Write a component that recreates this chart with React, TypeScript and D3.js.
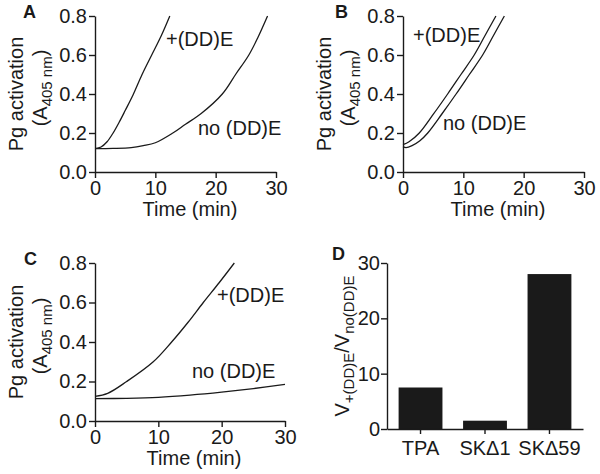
import React, { useEffect, useRef } from "react";
import * as d3 from "d3";

// panel A
const aPlusTime = [0, 1, 2, 3, 4, 5, 6.3, 7.8, 9.4, 11, 12.4];
const aPlusValue = [0.12, 0.128, 0.155, 0.2, 0.255, 0.315, 0.395, 0.5, 0.6, 0.7, 0.8];
const aNoTime = [0, 3, 6, 8, 10, 12.9, 15, 17.6, 21.1, 23.3, 25.5, 27, 28.6];
const aNoValue = [0.12, 0.121, 0.125, 0.135, 0.15, 0.2, 0.245, 0.3, 0.4, 0.5, 0.6, 0.69, 0.8];

// panel B
const bPlusTime = [0, 1, 2.7, 5, 7.4, 9.6, 11.8, 13.6, 15.4];
const bPlusValue = [0.14, 0.155, 0.2, 0.295, 0.4, 0.5, 0.6, 0.7, 0.8];
const bNoTime = [0, 0.5, 1.5, 2.8, 4.1, 6.5, 8.8, 11, 13.2, 15, 16.8];
const bNoValue = [0.13, 0.125, 0.135, 0.16, 0.2, 0.3, 0.4, 0.5, 0.6, 0.7, 0.8];

// panel C
const cPlusTime = [0, 2, 5, 9.2, 12.1, 14.7, 17.1, 19.6, 22];
const cPlusValue = [0.125, 0.14, 0.2, 0.3, 0.4, 0.5, 0.6, 0.7, 0.8];
const cNoTime = [0, 5, 10, 15, 20, 25, 30];
const cNoValue = [0.113, 0.115, 0.12, 0.131, 0.146, 0.164, 0.185];

// panel D
const enzymes = ["TPA", "SKΔ1", "SKΔ59"];
const ratios = [7.5, 1.5, 28];

const timeTicks = [0, 10, 20, 30];
const absTicks = [0, 0.2, 0.4, 0.6, 0.8];
const ratioTicks = [0, 10, 20, 30];

const FONT = "'Liberation Sans', Arial, Helvetica, sans-serif";
const INK = "#1a1a1a";

const App = () => {
  const ref = useRef<SVGSVGElement>(null);

  useEffect(() => {
    const svg = d3.select(ref.current).html("");
    svg.style("font-family", FONT);

    const styleAxis = (g: any) => {
      g.select(".domain").attr("stroke", INK).attr("stroke-width", 1.4);
      g.selectAll(".tick line").attr("stroke", INK).attr("stroke-width", 1.4);
      g.selectAll(".tick text")
        .attr("fill", INK)
        .style("font-size", "20px")
        .style("font-family", FONT);
    };

    const drawLinePanel = (p: any) => {
      const x = d3.scaleLinear().domain([0, 30]).range([p.left, p.right]);
      const y = d3.scaleLinear().domain([0, 0.8]).range([p.bottom, p.top]);
      const g = svg.append("g");

      g.append("g")
        .attr("transform", `translate(0,${p.bottom})`)
        .call(d3.axisBottom(x).tickValues(timeTicks).tickSize(6).tickPadding(3).tickSizeOuter(0))
        .call(styleAxis);
      g.append("g")
        .attr("transform", `translate(${p.left},0)`)
        .call(
          d3.axisLeft(y).tickValues(absTicks).tickFormat(d3.format(".1f")).tickSize(6).tickPadding(2).tickSizeOuter(0)
        )
        .call(styleAxis);

      const line = d3
        .line<[number, number]>()
        .x((d) => x(d[0]))
        .y((d) => y(d[1]))
        .curve(d3.curveCatmullRom.alpha(0.5));

      p.series.forEach((s: any) => {
        g.append("path")
          .datum(s.t.map((t: number, i: number) => [t, s.v[i]]))
          .attr("d", line)
          .attr("fill", "none")
          .attr("stroke", INK)
          .attr("stroke-width", 1.3);
      });

      p.labels.forEach((l: any) => {
        g.append("text")
          .attr("x", l.x)
          .attr("y", l.y)
          .attr("fill", INK)
          .style("font-size", "20px")
          .text(l.text);
      });

      // axis titles
      const midY = (p.top + p.bottom) / 2;
      g.append("text")
        .attr("transform", `translate(${p.left - 72},${midY}) rotate(-90)`)
        .attr("text-anchor", "middle")
        .attr("fill", INK)
        .style("font-size", "20px")
        .text("Pg activation");
      const t2 = g
        .append("text")
        .attr("transform", `translate(${p.left - 48},${midY - 6}) rotate(-90)`)
        .attr("text-anchor", "middle")
        .attr("fill", INK)
        .style("font-size", "20px");
      t2.append("tspan").text("(A");
      t2.append("tspan").attr("dy", 5).style("font-size", "15px").text("405 nm");
      t2.append("tspan").attr("dy", -5).text(")");

      g.append("text")
        .attr("x", Math.round((p.left + p.right) / 2 + 4))
        .attr("y", p.bottom + 44)
        .attr("text-anchor", "middle")
        .attr("fill", INK)
        .style("font-size", "20px")
        .text("Time (min)");

      g.append("text")
        .attr("x", p.letterX)
        .attr("y", p.letterY)
        .attr("fill", INK)
        .style("font-size", "18px")
        .style("font-weight", "bold")
        .text(p.letter);
    };

    drawLinePanel({
      left: 95, right: 276, top: 16, bottom: 172,
      letter: "A", letterX: 23, letterY: 18,
      series: [
        { t: aPlusTime, v: aPlusValue },
        { t: aNoTime, v: aNoValue },
      ],
      labels: [
        { text: "+(DD)E", x: 166, y: 46 },
        { text: "no (DD)E", x: 198, y: 135 },
      ],
    });

    drawLinePanel({
      left: 403, right: 584, top: 16, bottom: 172,
      letter: "B", letterX: 335, letterY: 18,
      series: [
        { t: bPlusTime, v: bPlusValue },
        { t: bNoTime, v: bNoValue },
      ],
      labels: [
        { text: "+(DD)E", x: 413, y: 42 },
        { text: "no (DD)E", x: 443, y: 130 },
      ],
    });

    drawLinePanel({
      left: 95, right: 285, top: 263, bottom: 421,
      letter: "C", letterX: 24, letterY: 265,
      series: [
        { t: cPlusTime, v: cPlusValue },
        { t: cNoTime, v: cNoValue },
      ],
      labels: [
        { text: "+(DD)E", x: 217, y: 302 },
        { text: "no (DD)E", x: 192, y: 378 },
      ],
    });

    // panel D: bars
    const left = 387, right = 583, top = 263, bottom = 429;
    const x = d3.scaleBand().domain(enzymes).range([left, right]).paddingInner(0.32).paddingOuter(0.18);
    const y = d3.scaleLinear().domain([0, 30]).range([bottom, top]);
    const g = svg.append("g");

    g.selectAll("rect")
      .data(enzymes)
      .join("rect")
      .attr("x", (d) => x(d)!)
      .attr("width", x.bandwidth())
      .attr("y", (d, i) => y(ratios[i]))
      .attr("height", (d, i) => bottom - y(ratios[i]))
      .attr("fill", INK);

    g.append("g")
      .attr("transform", `translate(0,${bottom})`)
      .call(d3.axisBottom(x).tickSize(5).tickPadding(7).tickSizeOuter(0))
      .call(styleAxis);
    g.append("g")
      .attr("transform", `translate(${left},0)`)
      .call(d3.axisLeft(y).tickValues(ratioTicks).tickSize(6).tickPadding(1).tickSizeOuter(0))
      .call(styleAxis);

    const vt = g
      .append("text")
      .attr("transform", `translate(${left - 38},${(top + bottom) / 2}) rotate(-90)`)
      .attr("text-anchor", "middle")
      .attr("fill", INK)
      .style("font-size", "20px");
    vt.append("tspan").text("V");
    vt.append("tspan").attr("dy", 5).style("font-size", "15px").text("+(DD)E");
    vt.append("tspan").attr("dy", -5).text("/V");
    vt.append("tspan").attr("dy", 5).style("font-size", "15px").text("no(DD)E");

    g.append("text")
      .attr("x", 332)
      .attr("y", 260)
      .attr("fill", INK)
      .style("font-size", "18px")
      .style("font-weight", "bold")
      .text("D");
  }, []);

  return (
    <svg
      ref={ref}
      width={600}
      height={474}
      style={{ position: "absolute", left: 0, top: 0, background: "#fff" }}
    />
  );
};

export default App;
